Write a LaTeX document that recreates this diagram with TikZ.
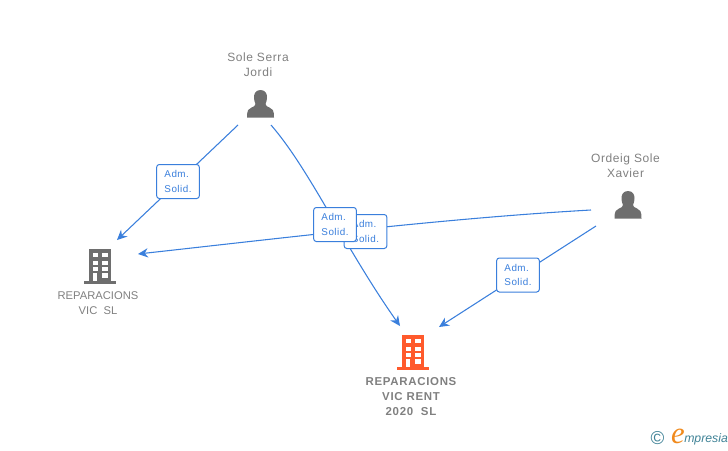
\documentclass[tikz,border=0pt]{standalone}
\usepackage{fontspec}
\setmainfont{Liberation Sans}
\newfontfamily\logofont{Liberation Serif}
\newfontfamily\spacedfont[LetterSpace=5]{Liberation Sans}
\newfontfamily\spacedbold[LetterSpace=6,BoldFont={Liberation Sans Bold}]{Liberation Sans}
\usetikzlibrary{arrows.meta}
\definecolor{linkblue}{HTML}{3A7FDC}
\definecolor{textgray}{HTML}{808080}
\definecolor{icongray}{HTML}{6E6E6E}
\definecolor{rentorange}{HTML}{FF5A2C}
\definecolor{logoblue}{HTML}{3F8296}
\definecolor{logoorange}{HTML}{F08A1D}
\tikzset{
  link/.style={draw=linkblue,line width=0.8pt,-{Stealth[length=7.5pt,width=7pt]}},
  rolebox/.style={draw=linkblue,fill=white,rounded corners=2pt,line width=0.75pt,
    minimum width=32pt,minimum height=25.5pt,inner sep=0pt,text=linkblue,
    font=\spacedfont\fontsize{7.4pt}{11.2pt}\selectfont,align=left},
  personname/.style={text=textgray,align=center,font=\spacedfont\fontsize{9pt}{11.2pt}\selectfont},
  companyname/.style={text=textgray,align=center,font=\fontsize{8.4pt}{11.2pt}\selectfont},
}
% person icon, #1 = top of head
\newcommand{\personicon}[1]{
\begin{scope}[shift={(#1)}]
\fill[icongray] (0,0) .. controls (-5,0) and (-6.5,4) .. (-6.5,7)
  .. controls (-6.5,10) and (-6,12) .. (-5,14)
  .. controls (-5,16) and (-7,16.5) .. (-9,17.5)
  .. controls (-12,18.5) and (-13.5,20) .. (-13.5,27.5)
  -- (13.5,27.5) .. controls (13.5,20) and (12,18.5) .. (9,17.5)
  .. controls (7,16.5) and (5,16) .. (5,14)
  .. controls (6,12) and (6.5,10) .. (6.5,7)
  .. controls (6.5,4) and (5,0) .. (0,0) -- cycle;
\end{scope}
}
% building icon, #1 = top centre, #2 = colour
\newcommand{\buildingicon}[2]{
\begin{scope}[shift={(#1)}]
\fill[#2] (-11,0) rectangle (11,32);
\fill[#2] (-16,32) rectangle (16,34.5);
\foreach \rowy in {3.5,11.5,17.5} {
  \fill[white] (-7.5,\rowy) rectangle (-2.5,\rowy+4);
  \fill[white] (2,\rowy) rectangle (7.5,\rowy+4);
}
\fill[white] (-7,24) rectangle (-3,32);
\fill[white] (2,24) rectangle (7.5,29);
\end{scope}
}

\begin{document}
\begin{tikzpicture}[x=0.75pt,y=-0.75pt]
\useasboundingbox (0,0) rectangle (728,450);
% free ends
\coordinate (soleleft) at (238,125);
\coordinate (soleright) at (271,125);
\coordinate (ordeigtop) at (591,210);
\coordinate (ordeiglow) at (596,226);
\coordinate (vicina) at (117,240);
\coordinate (vicinb) at (138,254);
\coordinate (rentina) at (400,326);
\coordinate (rentinb) at (439,327);
% connectors
\draw[link] (soleleft) -- (vicina);
\draw[link] (soleright) .. controls (310,170) and (345,248) .. (rentina);
\draw[link] (ordeigtop) .. controls (450,218) and (300,236) .. (vicinb);
\draw[link] (ordeiglow) -- (rentinb);
% labels
\node[rolebox] (roleone) at (178,181.5) {Adm.\\Solid.};
\node[rolebox] (roletwo) at (365.5,231.5) {Adm.\\Solid.};
\node[rolebox] (rolethree) at (335,224.5) {Adm.\\Solid.};
\node[rolebox] (rolefour) at (518,275) {Adm.\\Solid.};
% people
\node[personname] (sole) at (258,65) {Sole Serra\\Jordi};
\personicon{260.5,90}
\node[personname] (ordeig) at (625.5,165.5) {Ordeig Sole\\Xavier};
\personicon{628,191}
% companies
\buildingicon{100,249}{icongray}
\node[companyname] (vic) at (98,303) {REPARACIONS\\VIC\ \ SL};
\buildingicon{413,335}{rentorange}
\node[companyname,font=\spacedbold\bfseries\fontsize{8.6pt}{11.2pt}\selectfont] (rent) at (411,396.5) {REPARACIONS\\VIC RENT\\2020\ \ SL};
% logo
\node[text=logoblue,font=\fontsize{14pt}{14pt}\selectfont,inner sep=0pt] (copy) at (657.5,438.5) {\textcopyright};
\node[text=logoorange,font=\logofont\itshape\fontsize{23pt}{23pt}\selectfont,inner sep=0pt] (logoe) at (678,436) {e};
\node[text=logoblue,font=\itshape\fontsize{9.2pt}{10pt}\selectfont,inner sep=0pt,anchor=west] (logotext) at (684,439) {mpresia};
\end{tikzpicture}
\end{document}
